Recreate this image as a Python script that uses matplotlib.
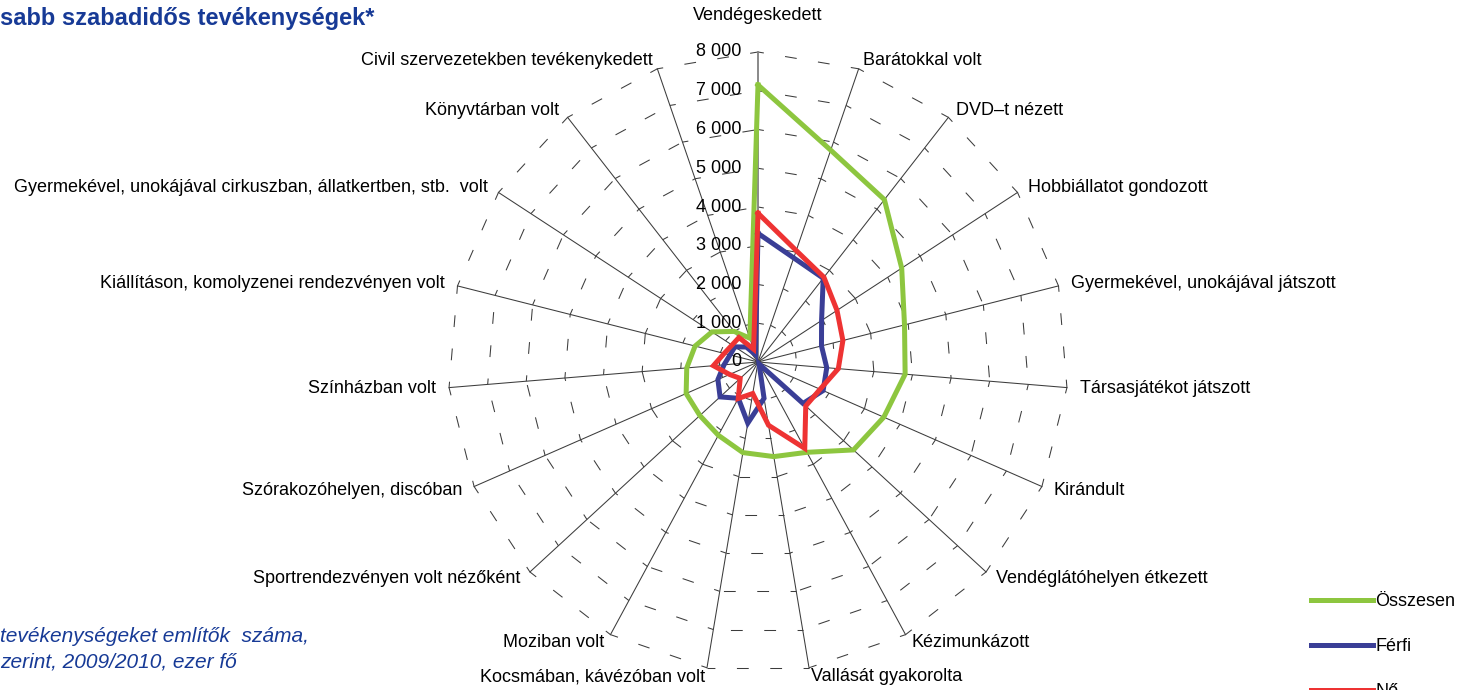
import numpy as np
import matplotlib
matplotlib.use('Agg')
import matplotlib.pyplot as plt

plt.rcParams['font.family'] = ['Liberation Sans', 'DejaVu Sans']
plt.rcParams['lines.scale_dashes'] = False

# --- data ---
CATEGORIES = [
    'Vendégeskedett', 'Barátokkal volt', 'DVD–t nézett', 'Hobbiállatot gondozott',
    'Gyermekével, unokájával játszott', 'Társasjátékot játszott', 'Kirándult',
    'Vendéglátóhelyen étkezett', 'Kézimunkázott', 'Vallását gyakorolta',
    'Kocsmában, kávézóban volt', 'Moziban volt', 'Sportrendezvényen volt nézőként',
    'Szórakozóhelyen, discóban', 'Színházban volt',
    'Kiállításon, komolyzenei rendezvényen volt',
    'Gyermekével, unokájával cirkuszban, állatkertben, stb.  volt',
    'Könyvtárban volt', 'Civil szervezetekben tevékenykedett',
]
OSSZESEN = [7150, 5780, 5310, 4430, 3900, 3810, 3545, 3350, 2650, 2475,
            2370, 2150, 2040, 2025, 1845, 1675, 1420, 1000, 650]
FERFI = [3320, 2840, 2740, 1960, 1690, 1780, 1835, 1580, 60, 950,
         1600, 1065, 1330, 1130, 880, 745, 715, 490, 200]
NO = [3840, 3040, 2770, 2435, 2260, 2080, 1750, 1675, 2535, 1655,
      825, 1070, 625, 800, 1155, 900, 800, 800, 350]
R_TICKS = [0, 1000, 2000, 3000, 4000, 5000, 6000, 7000, 8000]
R_MAX = 8000

SERIES = [('Összesen', OSSZESEN, '#8DC63F'),
          ('Férfi', FERFI, '#3A3E96'),
          ('Nő', NO, '#EE3333')]
TEXT_BLUE = '#173A96'
GRID_COLOR = '#3c3c3c'

W, H = 1457, 690
fig = plt.figure(figsize=(W / 100, H / 100), dpi=100)
cx, cy, rad = 758, 362, 310
ax = fig.add_axes([(cx - rad) / W, (H - cy - rad) / H, 2 * rad / W, 2 * rad / H],
                  projection='polar')
ax.set_theta_zero_location('N')
ax.set_theta_direction(-1)
ax.set_ylim(0, R_MAX)
ax.grid(False)
ax.set_xticks([])
ax.set_yticks([])
ax.spines['polar'].set_visible(False)
ax.patch.set_visible(False)

n = len(CATEGORIES)
theta = np.arange(n) * 2 * np.pi / n

# dashed polygon rings, a dash centred on every spoke
dash_on, dash_off = 8.5, 15.5
for r in R_TICKS[1:]:
    for j in range(n):
        t0, t1 = theta[j], theta[(j + 1) % n] if j < n - 1 else 2 * np.pi
        ax.plot([t0, t1], [r, r], color=GRID_COLOR, lw=0.75,
                linestyle=(dash_on / 2, (dash_on, dash_off)), clip_on=False, zorder=1)

# spokes
for j, t in enumerate(theta):
    if j == 0:
        ax.plot([t, t], [0, R_MAX], color='#808080', lw=1.3, clip_on=False, zorder=1)
    else:
        ax.plot([t, t], [0, R_MAX], color=GRID_COLOR, lw=0.75, clip_on=False, zorder=1)

# value axis labels
for v in R_TICKS:
    ax.annotate(f'{v:,}'.replace(',', ' '), xy=(0, v), xytext=(-12, 0),
                textcoords='offset points', ha='right', va='center', fontsize=13)

# category labels
for j, (t, lab) in enumerate(zip(theta, CATEGORIES)):
    s, c = np.sin(t), np.cos(t)
    if s > 0.05:
        ha = 'left'
    elif s < -0.05:
        ha = 'right'
    else:
        ha = 'center'
    dx = 13 * s * 0.72
    dy = (36 if j == 0 else 9 * c) * 0.72
    ax.annotate(lab, xy=(t, R_MAX), xytext=(dx, dy), textcoords='offset points',
                ha=ha, va='center', fontsize=13)

# series
for name, vals, col in SERIES:
    tt = np.append(theta, theta[0])
    vv = np.append(vals, vals[0])
    ax.plot(tt, vv, color=col, lw=3.6, label=name, clip_on=False, zorder=3,
            solid_joinstyle='miter')

fig.text(0, 1 - 18 / H, 'sabb szabadidős tevékenységek*', fontsize=17,
         fontweight='bold', color=TEXT_BLUE, ha='left', va='center')
fig.text(0, 1 - 636 / H, 'tevékenységeket említők  száma,', fontsize=15,
         style='italic', color=TEXT_BLUE, ha='left', va='center')
fig.text(0, 1 - 662 / H, 'zerint, 2009/2010, ezer fő', fontsize=15,
         style='italic', color=TEXT_BLUE, ha='left', va='center')

fig.legend(loc='upper left', bbox_to_anchor=(1304 / W, 1 - 586 / H), frameon=False,
           fontsize=13, handlelength=3.4, handletextpad=0.15, labelspacing=1.55,
           borderaxespad=0)

fig.savefig('out.png', dpi=100)
